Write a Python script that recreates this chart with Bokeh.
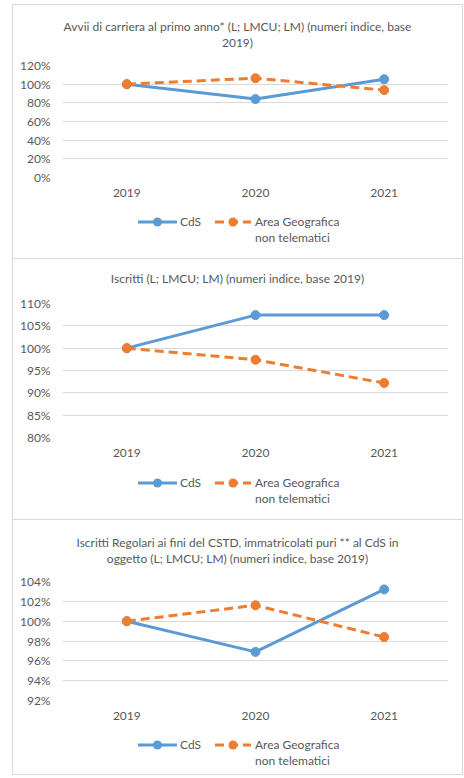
from bokeh.plotting import figure
from bokeh.models import (FactorRange, Range1d, FixedTicker, NumeralTickFormatter,
                          ColumnDataSource, Div)
from bokeh.layouts import column
from bokeh.embed import file_html
from bokeh.resources import INLINE

# ---------------- data ----------------
years = ["2019", "2020", "2021"]
series_cds = ["CdS"]
series_area = ["Area Geografica", "non telematici"]

title_avvii = ["Avvii di carriera al primo anno* (L; LMCU; LM) (numeri indice, base", "2019)"]
avvii_cds = [1.00, 0.840, 1.053]
avvii_area = [1.00, 1.064, 0.936]
avvii_ticks = [0.0, 0.2, 0.4, 0.6, 0.8, 1.0, 1.2]

title_iscritti = ["Iscritti (L; LMCU; LM) (numeri indice, base 2019)"]
iscritti_cds = [1.00, 1.074, 1.074]
iscritti_area = [1.00, 0.974, 0.922]
iscritti_ticks = [0.80, 0.85, 0.90, 0.95, 1.00, 1.05, 1.10]

title_regolari = ["Iscritti Regolari ai fini del CSTD, immatricolati puri ** al CdS in",
                  "oggetto (L; LMCU; LM) (numeri indice, base 2019)"]
regolari_cds = [1.00, 0.969, 1.032]
regolari_area = [1.00, 1.016, 0.984]
regolari_ticks = [0.92, 0.94, 0.96, 0.98, 1.00, 1.02, 1.04]

# ---------------- style ----------------
FONT = "Lato"
GREY = "#595959"
BLUE = "#5b9bd5"
ORANGE = "#ed7d31"
GRID = "#d9d9d9"
DASH = "9 5"
LW = 3
MS = 9
W = 449
BORDER = "1px solid #d9d9d9"


def title_div(lines, height, pad):
    html = ('<div style="width:%dpx;text-align:center;font-family:%s;font-size:12px;'
            'line-height:16px;color:%s;padding-top:%dpx;">%s</div>'
            % (W, FONT, GREY, pad, "<br>".join(lines)))
    return Div(text=html, width=W, height=height, margin=0)


def legend_div(height, mid):
    def glyph(left, color, width, dash):
        dash_attr = ' stroke-dasharray="9 5"' if dash else ''
        return ('<svg style="position:absolute;left:%dpx;top:%dpx" width="%d" height="10">'
                '<line x1="0" y1="5" x2="%d" y2="5" stroke="%s" stroke-width="%d"%s/>'
                '<circle cx="%g" cy="5" r="4.5" fill="%s"/></svg>'
                % (left, mid - 5, width, width, color, LW, dash_attr, width / 2, color))

    def label(left, lines):
        return ('<div style="position:absolute;left:%dpx;top:%dpx;white-space:nowrap">%s</div>'
                % (left, mid - 8, "<br>".join(lines)))

    html = ('<div style="position:relative;width:%dpx;height:%dpx;font-family:%s;'
            'font-size:12px;line-height:16px;color:%s;">%s%s%s%s</div>'
            % (W, height, FONT, GREY,
               glyph(125, BLUE, 39, False), label(167, series_cds),
               glyph(202, ORANGE, 36, True), label(242, series_area)))
    return Div(text=html, width=W, height=height, margin=0)


def make_fig(cds, area, ticks, fig_h):
    p = figure(width=W, height=fig_h, x_range=FactorRange(*years),
               y_range=Range1d(ticks[0], ticks[-1]), output_backend="svg",
               toolbar_location=None, min_border_left=49, min_border_right=14,
               min_border_top=10, min_border_bottom=26,
               outline_line_color=None, margin=0)
    p.xgrid.visible = False
    tk = FixedTicker(ticks=ticks)
    p.yaxis.ticker = tk
    p.ygrid.ticker = tk
    p.ygrid.grid_line_color = GRID
    p.ygrid.grid_line_width = 1
    p.yaxis.formatter = NumeralTickFormatter(format="0%")
    for ax in (p.xaxis[0], p.yaxis[0]):
        ax.axis_line_color = None
        ax.major_tick_line_color = None
        ax.minor_tick_line_color = None
        ax.major_label_text_font = FONT
        ax.major_label_text_font_size = "12px"
        ax.major_label_text_color = GREY
    p.xaxis.major_label_standoff = 5
    p.yaxis.major_label_standoff = 6

    src = ColumnDataSource(dict(year=years, cds=cds, area=area))
    p.line("year", "cds", source=src, line_color=BLUE, line_width=LW)
    p.scatter("year", "cds", source=src, size=MS, fill_color=BLUE, line_color=BLUE)
    p.line("year", "area", source=src, line_color=ORANGE, line_width=LW, line_dash=DASH)
    p.scatter("year", "area", source=src, size=MS, fill_color=ORANGE, line_color=ORANGE)
    return p


def panel(title_lines, cds, area, ticks, title_h, title_pad, fig_h, leg_h, leg_mid, last=False):
    styles = {"border-top": BORDER, "border-left": BORDER, "border-right": BORDER}
    if last:
        styles["border-bottom"] = BORDER
    return column(title_div(title_lines, title_h, title_pad),
                  make_fig(cds, area, ticks, fig_h),
                  legend_div(leg_h, leg_mid), spacing=0, styles=styles)


panel1 = panel(title_avvii, avvii_cds, avvii_area, avvii_ticks, 50, 14, 148, 55, 19)
panel2 = panel(title_iscritti, iscritti_cds, iscritti_area, iscritti_ticks, 34, 12, 170, 56, 20)
panel3 = panel(title_regolari, regolari_cds, regolari_area, regolari_ticks, 51, 15, 155, 48, 19,
               last=True)

layout = column(panel1, panel2, panel3, spacing=0,
                styles={"margin-left": "12px", "margin-top": "4px"})

open("out.html", "w").write(file_html(layout, INLINE))
